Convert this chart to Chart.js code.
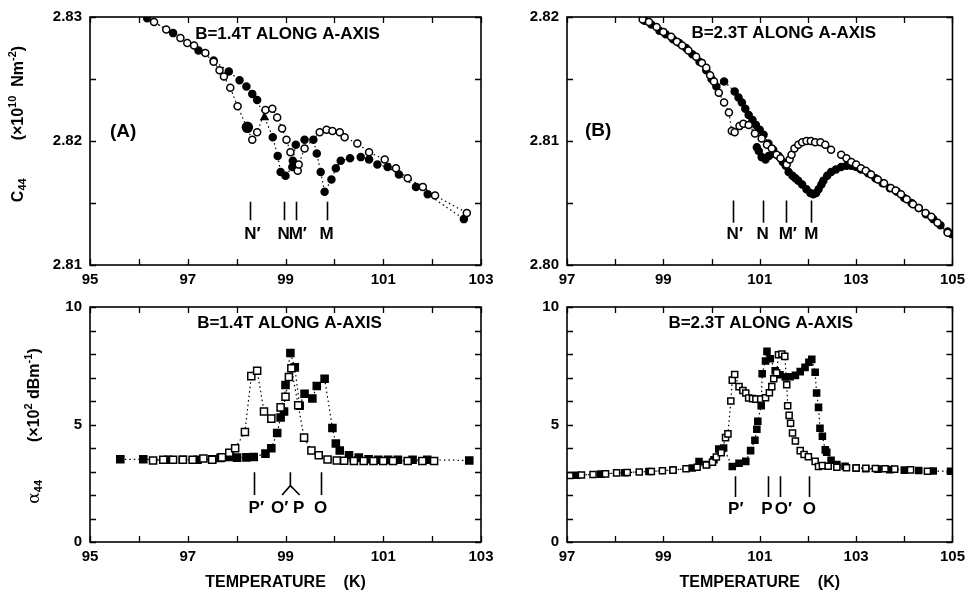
<!DOCTYPE html>
<html>
<head>
<meta charset="utf-8">
<script src="https://cdn.jsdelivr.net/npm/chart.js@4"></script>
<style>
  html, body { margin: 0; padding: 0; background: #fff; overflow: hidden; }
  #wrap { position: relative; width: 971px; height: 594px; background: #fff; }
  canvas { position: absolute; }
</style>
</head>
<body>
<div id="wrap">
  <canvas id="cTL" width="510" height="295" style="left:0;top:0"></canvas>
  <canvas id="cTR" width="481" height="295" style="left:490px;top:0"></canvas>
  <canvas id="cBL" width="510" height="304" style="left:0;top:290px"></canvas>
  <canvas id="cBR" width="481" height="304" style="left:490px;top:290px"></canvas>
</div>
<script>
// ---------------- DATA ----------------
// Panel A (top-left): C44 vs T, B = 1.4 T
const tlOpenT = [96.31, 96.56, 96.85, 96.99, 97.13, 97.36, 97.53, 97.65, 97.74, 97.87, 98.02, 98.32, 98.42, 98.59, 98.73, 98.83, 98.93, 99.02, 99.10, 99.25, 99.27, 99.39, 99.70, 99.84, 99.96, 100.11, 100.21, 100.47, 100.71, 101.03, 101.26, 101.50, 101.81, 102.06, 102.71];
const tlOpenC = [2.8296, 2.8290, 2.8283, 2.8279, 2.8277, 2.8271, 2.8264, 2.8257, 2.8252, 2.8243, 2.8228, 2.8201, 2.8207, 2.8225, 2.8226, 2.8219, 2.8210, 2.8201, 2.8191, 2.8176, 2.8181, 2.8194, 2.8207, 2.8209, 2.8208, 2.8207, 2.8203, 2.8198, 2.8191, 2.8185, 2.8178, 2.8170, 2.8163, 2.8156, 2.8142];
const tlFillT = [96.17, 96.70, 97.22, 97.53, 97.84, 98.06, 98.20, 98.32, 98.42, 98.74, 98.84, 98.90, 99.00, 99.14, 99.15, 99.21, 99.39, 99.57, 99.64, 99.72, 99.80, 99.94, 100.03, 100.13, 100.32, 100.54, 100.71, 100.88, 101.09, 101.32, 101.67, 101.91, 102.65];
const tlFillC = [2.8299, 2.8287, 2.8273, 2.8265, 2.8256, 2.8249, 2.8244, 2.8238, 2.8233, 2.8203, 2.8188, 2.8175, 2.8172, 2.8179, 2.8184, 2.8197, 2.8201, 2.8201, 2.8190, 2.8175, 2.8159, 2.8169, 2.8178, 2.8184, 2.8186, 2.8187, 2.8185, 2.8181, 2.8179, 2.8173, 2.8163, 2.8157, 2.8137];
const tlExtraT = [98.22, 98.57];
const tlExtraC = [2.8211, 2.8219];
const tlMarkNames = ['N\u2032', 'N', 'M\u2032', 'M'];
const tlMarkT = [98.28, 98.96, 99.21, 99.84];

// Panel B (top-right): C44 vs T, B = 2.3 T
const trOpenT = [98.57, 98.70, 98.86, 99.00, 99.16, 99.28, 99.39, 99.52, 99.68, 99.80, 99.89, 99.97, 100.05, 100.15, 100.26, 100.36, 100.42, 100.48, 100.58, 100.66, 100.77, 100.90, 101.04, 101.15, 101.25, 101.35, 101.43, 101.56, 101.62, 101.66, 101.72, 101.80, 101.88, 101.97, 102.06, 102.15, 102.26, 102.36, 102.48, 102.69, 102.80, 102.90, 103.00, 103.10, 103.20, 103.31, 103.45, 103.58, 103.72, 103.82, 103.93, 104.05, 104.18, 104.30, 104.44, 104.56, 104.69, 104.90];
const trOpenC = [2.8198, 2.8196, 2.8192, 2.8188, 2.8184, 2.8180, 2.8177, 2.8173, 2.8168, 2.8163, 2.8159, 2.8153, 2.8148, 2.8139, 2.8131, 2.8123, 2.8108, 2.8107, 2.8112, 2.8114, 2.8113, 2.8106, 2.8102, 2.8097, 2.8094, 2.8089, 2.8086, 2.8081, 2.8085, 2.8089, 2.8094, 2.8097, 2.8099, 2.8100, 2.8100, 2.8099, 2.8099, 2.8097, 2.8093, 2.8089, 2.8086, 2.8083, 2.8081, 2.8078, 2.8076, 2.8073, 2.8069, 2.8066, 2.8062, 2.8060, 2.8057, 2.8053, 2.8049, 2.8046, 2.8042, 2.8039, 2.8034, 2.8026];
const trFillT = [98.61, 98.75, 98.92, 99.05, 99.20, 99.33, 99.47, 99.60, 99.75, 99.89, 100.00, 100.10, 100.26, 100.48, 100.56, 100.63, 100.70, 100.77, 100.85, 100.92, 101.00, 101.08, 101.18, 101.28, 101.39, 101.48, 101.54, 101.60, 101.68, 101.74, 101.80, 101.88, 101.97, 102.05, 102.11, 102.17, 102.22, 102.28, 102.32, 102.40, 102.48, 102.58, 102.69, 102.80, 102.90, 103.00, 103.10, 103.25, 103.40, 103.55, 103.70, 103.85, 104.00, 104.15, 104.30, 104.45, 104.60, 104.75, 104.90, 104.98];
const trFillC = [2.8197, 2.8194, 2.8189, 2.8186, 2.8182, 2.8179, 2.8175, 2.8170, 2.8164, 2.8157, 2.8150, 2.8144, 2.8148, 2.8140, 2.8135, 2.8131, 2.8126, 2.8121, 2.8117, 2.8113, 2.8109, 2.8105, 2.8098, 2.8093, 2.8088, 2.8083, 2.8080, 2.8075, 2.8072, 2.8070, 2.8068, 2.8065, 2.8061, 2.8058, 2.8057, 2.8058, 2.8061, 2.8065, 2.8068, 2.8072, 2.8075, 2.8077, 2.8079, 2.8080, 2.8080, 2.8079, 2.8077, 2.8074, 2.8070, 2.8066, 2.8062, 2.8059, 2.8054, 2.8050, 2.8046, 2.8041, 2.8037, 2.8032, 2.8027, 2.8025];
const trBranchT = [100.94, 100.98, 101.04, 101.12, 101.19, 101.28];
const trBranchC = [2.8095, 2.8092, 2.8087, 2.8085, 2.8088, 2.8090];
const trMarkNames = ['N\u2032', 'N', 'M\u2032', 'M'];
const trMarkT = [100.44, 101.06, 101.54, 102.07];

// Panel C (bottom-left): alpha44 vs T, B = 1.4 T
const blOpenT = [96.29, 96.50, 96.70, 96.90, 97.10, 97.32, 97.50, 97.70, 97.85, 97.97, 98.17, 98.30, 98.42, 98.56, 98.71, 98.90, 99.00, 99.07, 99.12, 99.26, 99.38, 99.53, 99.68, 99.86, 100.05, 100.20, 100.40, 100.60, 100.80, 101.00, 101.20, 101.50, 101.80, 102.04];
const blOpenA = [3.47, 3.50, 3.50, 3.50, 3.50, 3.55, 3.50, 3.60, 3.80, 3.99, 4.68, 7.06, 7.29, 5.55, 5.25, 5.73, 6.18, 7.02, 7.39, 5.82, 4.44, 3.89, 3.69, 3.51, 3.47, 3.46, 3.45, 3.45, 3.45, 3.45, 3.45, 3.45, 3.45, 3.45];
const blFillT = [95.62, 96.09, 96.60, 96.90, 97.20, 97.50, 97.67, 97.87, 98.01, 98.20, 98.35, 98.59, 98.71, 98.83, 98.90, 98.97, 99.00, 99.10, 99.19, 99.29, 99.39, 99.55, 99.64, 99.80, 99.96, 100.03, 100.11, 100.30, 100.50, 100.70, 100.90, 101.10, 101.30, 101.60, 101.90, 102.76];
const blFillA = [3.52, 3.52, 3.50, 3.50, 3.50, 3.52, 3.58, 3.62, 3.59, 3.60, 3.62, 3.76, 3.99, 4.64, 5.30, 5.55, 6.68, 8.04, 7.43, 5.80, 6.31, 6.11, 6.64, 6.95, 4.85, 4.19, 3.89, 3.69, 3.59, 3.52, 3.50, 3.50, 3.50, 3.50, 3.50, 3.47];

// Panel D (bottom-right): alpha44 vs T, B = 2.3 T
const brOpenT = [97.06, 97.30, 97.54, 97.80, 98.03, 98.25, 98.50, 98.75, 98.98, 99.20, 99.47, 99.70, 99.89, 100.02, 100.10, 100.20, 100.29, 100.34, 100.40, 100.43, 100.48, 100.57, 100.65, 100.71, 100.77, 100.85, 100.92, 101.02, 101.12, 101.20, 101.25, 101.29, 101.35, 101.39, 101.46, 101.52, 101.56, 101.58, 101.61, 101.64, 101.68, 101.74, 101.84, 101.92, 102.01, 102.15, 102.22, 102.30, 102.42, 102.60, 102.80, 103.00, 103.20, 103.40, 103.60, 103.80, 104.13, 104.48];
const brOpenA = [2.83, 2.85, 2.87, 2.90, 2.94, 2.96, 2.98, 3.00, 3.03, 3.06, 3.12, 3.18, 3.28, 3.40, 3.62, 3.80, 4.44, 4.60, 6.00, 6.89, 7.13, 6.61, 6.45, 6.34, 6.13, 6.10, 6.08, 6.08, 6.14, 6.35, 6.61, 6.95, 7.20, 7.97, 8.00, 7.90, 6.69, 5.80, 5.39, 5.05, 4.64, 4.30, 3.89, 3.72, 3.63, 3.43, 3.21, 3.25, 3.22, 3.18, 3.16, 3.15, 3.14, 3.13, 3.12, 3.10, 3.07, 3.01];
const brFillT = [97.20, 97.70, 98.20, 98.70, 99.20, 99.60, 99.74, 99.90, 100.05, 100.15, 100.25, 100.43, 100.57, 100.71, 100.81, 100.90, 100.94, 100.96, 101.03, 101.05, 101.12, 101.15, 101.22, 101.32, 101.42, 101.53, 101.63, 101.74, 101.84, 101.94, 102.02, 102.08, 102.15, 102.18, 102.22, 102.25, 102.30, 102.36, 102.39, 102.48, 102.60, 102.77, 103.00, 103.20, 103.45, 103.70, 104.00, 104.30, 104.60, 104.96];
const brFillA = [2.84, 2.89, 2.95, 3.00, 3.06, 3.15, 3.42, 3.30, 3.50, 3.96, 4.00, 3.21, 3.35, 3.43, 3.89, 4.33, 4.80, 5.14, 5.80, 7.16, 7.70, 8.11, 7.80, 7.29, 7.12, 7.02, 7.03, 7.09, 7.25, 7.43, 7.65, 7.77, 7.22, 6.34, 5.73, 4.84, 4.50, 3.92, 3.82, 3.48, 3.30, 3.22, 3.15, 3.12, 3.10, 3.08, 3.06, 3.04, 3.02, 3.01];

// ---------------- HELPERS ----------------
const FONT = '"Liberation Sans", Arial, Helvetica, sans-serif';
Chart.defaults.font.family = FONT;
Chart.defaults.color = '#000';

const pts = (xs, ys) => xs.map((x, i) => ({ x: x, y: ys[i] }));

function series(xs, ys, filled, style, radius) {
  return {
    data: pts(xs, ys),
    showLine: true,
    borderColor: '#000',
    borderWidth: 1.2,
    borderDash: [1.5, 3],
    pointStyle: style,
    pointRadius: radius,
    pointBorderWidth: 1.5,
    pointBorderColor: '#000',
    pointBackgroundColor: filled ? '#000' : '#fff',
    backgroundColor: filled ? '#000' : '#fff'
  };
}

const framePlugin = {
  id: 'frame',
  afterDraw(chart) {
    const { ctx, chartArea: a, scales } = chart;
    ctx.save();
    ctx.strokeStyle = '#000';
    ctx.lineWidth = 1.6;
    ctx.strokeRect(a.left, a.top, a.right - a.left, a.bottom - a.top);
    ctx.lineWidth = 1.3;
    ctx.beginPath();
    scales.x.ticks.forEach(t => {
      const px = Math.round(scales.x.getPixelForValue(t.value)) + 0.5;
      ctx.moveTo(px, a.bottom); ctx.lineTo(px, a.bottom - 6);
      ctx.moveTo(px, a.top); ctx.lineTo(px, a.top + 6);
    });
    scales.y.ticks.forEach(t => {
      const py = Math.round(scales.y.getPixelForValue(t.value)) + 0.5;
      ctx.moveTo(a.left, py); ctx.lineTo(a.left + 6, py);
      ctx.moveTo(a.right, py); ctx.lineTo(a.right - 6, py);
    });
    ctx.stroke();
    ctx.restore();
  }
};

function drawRich(ctx, segs, x, cy) {
  ctx.save();
  ctx.translate(x, cy);
  ctx.rotate(-Math.PI / 2);
  let total = 0;
  segs.forEach(s => {
    if (s.gap) { total += s.gap; return; }
    ctx.font = s.font; total += ctx.measureText(s.t).width;
  });
  let cx = -total / 2;
  ctx.textBaseline = 'middle';
  ctx.textAlign = 'left';
  ctx.fillStyle = '#000';
  segs.forEach(s => {
    if (s.gap) { cx += s.gap; return; }
    ctx.font = s.font;
    ctx.fillText(s.t, cx, s.dy || 0);
    cx += ctx.measureText(s.t).width;
  });
  ctx.restore();
}

const annotPlugin = {
  id: 'annot',
  afterDraw(chart, args, opts) {
    const { ctx, chartArea: a, scales } = chart;
    const X = v => scales.x.getPixelForValue(v);
    const Y = v => scales.y.getPixelForValue(v);
    ctx.save();
    ctx.fillStyle = '#000';
    ctx.strokeStyle = '#000';
    // headline
    ctx.font = 'bold 17px ' + FONT;
    ctx.textAlign = 'center';
    ctx.textBaseline = 'middle';
    ctx.fillText(opts.head, (a.left + a.right) / 2 + opts.headDx, a.top + opts.headDy);
    if (opts.tag) {
      ctx.font = 'bold 19px ' + FONT;
      ctx.textAlign = 'left';
      ctx.fillText(opts.tag, a.left + opts.tagDx, a.top + opts.tagDy);
    }
    // marker lines
    ctx.lineWidth = 1.6;
    ctx.beginPath();
    opts.lines.forEach(t => {
      const px = Math.round(X(t)) + 0.5;
      ctx.moveTo(px, Y(opts.lineTop)); ctx.lineTo(px, Y(opts.lineBot));
    });
    if (opts.fork) {
      const f = opts.fork;
      const px = X(f.t);
      ctx.moveTo(px, Y(opts.lineTop)); ctx.lineTo(px, Y(f.split));
      ctx.lineTo(X(f.left), Y(opts.lineBot));
      ctx.moveTo(px, Y(f.split)); ctx.lineTo(X(f.right), Y(opts.lineBot));
    }
    ctx.stroke();
    // marker labels: the letter is centred on its position, the prime follows it
    ctx.font = 'bold 17px ' + FONT;
    ctx.textAlign = 'left';
    ctx.textBaseline = 'middle';
    opts.names.forEach((n, i) => {
      const w = ctx.measureText(n.charAt(0)).width;
      ctx.fillText(n, X(opts.labelT[i]) - w / 2, Y(opts.labelY));
    });
    // y title
    if (opts.ytitle) drawRich(ctx, opts.ytitle.segs, opts.ytitle.x, opts.ytitle.cy);
    ctx.restore();
  }
};

function makeChart(id, cfg) {
  const labelEvery = cfg.labelEvery;
  return new Chart(document.getElementById(id), {
    type: 'scatter',
    data: { datasets: cfg.datasets },
    options: {
      responsive: false,
      animation: false,
      devicePixelRatio: 1,
      layout: { padding: cfg.padding },
      plugins: { legend: { display: false }, tooltip: { enabled: false }, annot: cfg.annot },
      scales: {
        x: {
          type: 'linear', min: cfg.xmin, max: cfg.xmax,
          grid: { display: false, drawTicks: false },
          border: { display: false },
          ticks: {
            stepSize: 1, autoSkip: false, maxRotation: 0, padding: 6,
            font: { size: 15, weight: 'bold' },
            callback: v => (Math.abs(Math.round(v) - v) < 1e-6 && (Math.round(v) - cfg.xmin) % 2 === 0) ? String(Math.round(v)) : ''
          },
          title: cfg.xtitle ? { display: true, text: cfg.xtitle, font: { size: 16, weight: 'bold' }, padding: { top: 0, bottom: 2 } } : { display: false },
          afterFit: s => { s.height = cfg.xh; }
        },
        y: {
          type: 'linear', min: cfg.ymin, max: cfg.ymax,
          grid: { display: false, drawTicks: false },
          border: { display: false },
          ticks: {
            stepSize: cfg.ystep, autoSkip: false, padding: 8,
            font: { size: 15, weight: 'bold' },
            callback: v => {
              const k = v / labelEvery;
              return Math.abs(Math.round(k) - k) < 1e-6 ? v.toFixed(cfg.ydec) : '';
            }
          },
          afterFit: s => { s.width = cfg.yw; }
        }
      }
    },
    plugins: [framePlugin, annotPlugin]
  });
}

const tlExtra = series(tlExtraT, tlExtraC, true, ['circle', 'triangle'], [5, 4]);
tlExtra.showLine = false;

makeChart('cTL', {
  xmin: 95, xmax: 103, ymin: 2.81, ymax: 2.83, ystep: 0.005, labelEvery: 0.01, ydec: 2,
  yw: 90, xh: 30, padding: { top: 12, right: 29, left: 0, bottom: 0 },
  datasets: [
    series(tlOpenT, tlOpenC, false, 'circle', 3.5),
    series(tlFillT, tlFillC, true, 'circle', 3.5),
    tlExtra
  ],
  annot: {
    head: 'B=1.4T ALONG A-AXIS', headDx: 2, headDy: 17,
    tag: '(A)', tagDx: 20, tagDy: 115,
    lines: tlMarkT, lineTop: 2.8151, lineBot: 2.8136,
    names: tlMarkNames, labelT: tlMarkT, labelY: 2.8125,
    ytitle: {
      x: 19, cy: 124, segs: [
        { t: 'C', font: 'bold 16px ' + FONT },
        { t: '44', font: 'bold 11px ' + FONT, dy: 4 },
        { gap: 38 },
        { t: '(\u00d710', font: 'bold 16px ' + FONT },
        { t: '10', font: 'bold 11px ' + FONT, dy: -6 },
        { t: '  Nm', font: 'bold 16px ' + FONT },
        { t: '-2', font: 'bold 11px ' + FONT, dy: -6 },
        { t: ')', font: 'bold 16px ' + FONT }
      ]
    }
  }
});

makeChart('cTR', {
  xmin: 97, xmax: 105, ymin: 2.80, ymax: 2.82, ystep: 0.005, labelEvery: 0.01, ydec: 2,
  yw: 77, xh: 30, padding: { top: 13, right: 16, left: 0, bottom: 0 },
  datasets: [
    series(trOpenT, trOpenC, false, 'circle', 3.5),
    series(trFillT, trFillC, true, 'circle', 3.5),
    series(trBranchT, trBranchC, true, 'circle', 3.5)
  ],
  annot: {
    head: 'B=2.3T ALONG A-AXIS', headDx: 24, headDy: 16,
    tag: '(B)', tagDx: 18, tagDy: 114,
    lines: trMarkT, lineTop: 2.8052, lineBot: 2.8034,
    names: trMarkNames, labelT: trMarkT, labelY: 2.8025
  }
});

makeChart('cBL', {
  xmin: 95, xmax: 103, ymin: 0, ymax: 10, ystep: 1, labelEvery: 5, ydec: 0,
  yw: 90, xh: 52, padding: { top: 7, right: 29, left: 0, bottom: 0 },
  xtitle: 'TEMPERATURE    (K)',
  datasets: [
    series(blOpenT, blOpenA, false, 'rect', 5),
    series(blFillT, blFillA, true, 'rect', 5)
  ],
  annot: {
    head: 'B=1.4T ALONG A-AXIS', headDx: 4, headDy: 16,
    lines: [98.36, 99.72], lineTop: 2.97, lineBot: 2.0,
    fork: { t: 99.10, split: 2.40, left: 98.93, right: 99.29 },
    names: ['P\u2032', 'O\u2032', 'P', 'O'], labelT: [98.36, 98.84, 99.27, 99.72], labelY: 1.43,
    ytitle: {
      x: 35, cy: 136, segs: [
        { t: '\u03b1', font: '17px "DejaVu Serif", serif' },
        { t: '44', font: 'bold 11px ' + FONT, dy: 4 },
        { gap: 38 },
        { t: '(\u00d710', font: 'bold 16px ' + FONT },
        { t: '2', font: 'bold 11px ' + FONT, dy: -6 },
        { t: ' dBm', font: 'bold 16px ' + FONT },
        { t: '-1', font: 'bold 11px ' + FONT, dy: -6 },
        { t: ')', font: 'bold 16px ' + FONT }
      ]
    }
  }
});

makeChart('cBR', {
  xmin: 97, xmax: 105, ymin: 0, ymax: 10, ystep: 1, labelEvery: 5, ydec: 0,
  yw: 77, xh: 52, padding: { top: 7, right: 16, left: 0, bottom: 0 },
  xtitle: 'TEMPERATURE    (K)',
  datasets: [
    series(brOpenT, brOpenA, false, 'rect', 4.3),
    series(brFillT, brFillA, true, 'rect', 4.3)
  ],
  annot: {
    head: 'B=2.3T ALONG A-AXIS', headDx: 1, headDy: 16,
    lines: [100.48, 101.17, 101.43, 102.03], lineTop: 2.80, lineBot: 1.92,
    names: ['P\u2032', 'P', 'O\u2032', 'O'], labelT: [100.46, 101.15, 101.45, 102.03], labelY: 1.37
  }
});
</script>
</body>
</html>
